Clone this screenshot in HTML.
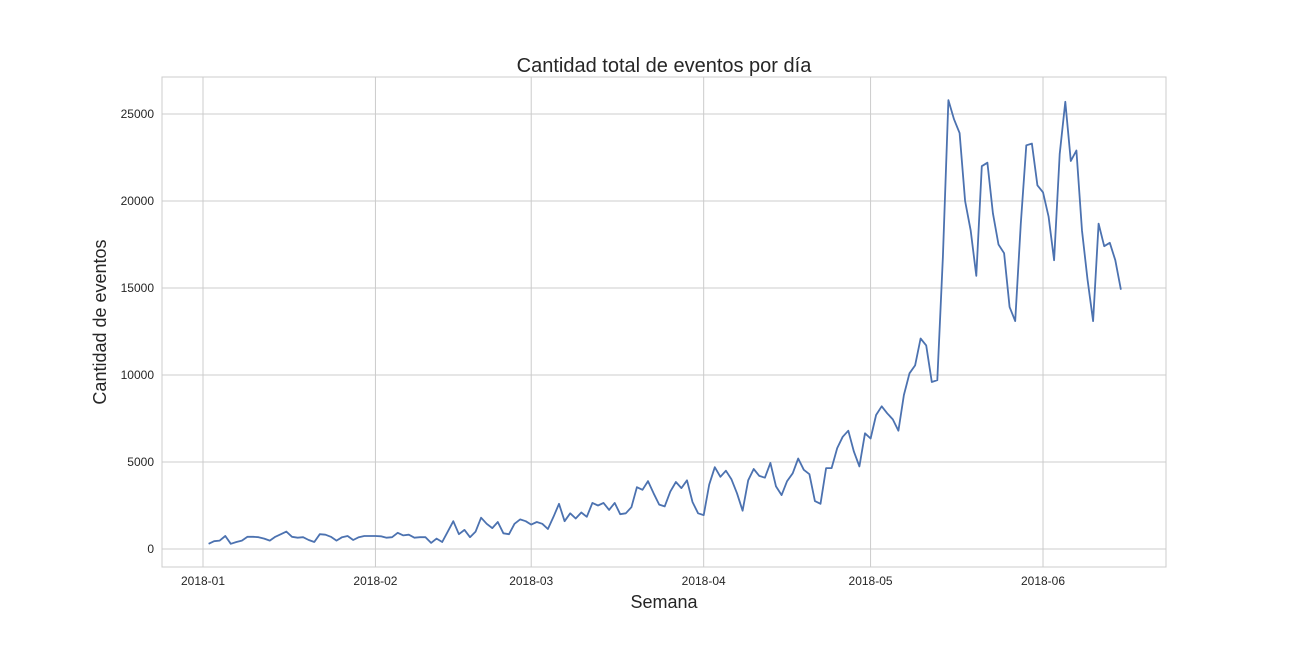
<!DOCTYPE html>
<html><head><meta charset="utf-8"><style>
body{margin:0;background:#fff;}
svg text{font-family:"Liberation Sans",Arial,sans-serif;fill:#262626;}
</style></head><body>
<svg id="chart" width="1296" height="648"></svg>
<script>
const janVals=[300,450,480,750,300,400,480,700,700,680,600,480,700,850,1000,700,650,680,520,400,850,820,700,480,680,750,520,680,750,750];
const febVals=[750,730,650,680,930,780,820,650,680,680,350,600,400,1000,1600,850,1100,680,1000,1800,1450,1200,1550,900,850,1450,1700,1600];
const marVals=[1400,1550,1450,1150,1850,2600,1600,2050,1750,2100,1850,2650,2500,2650,2250,2650,2000,2050,2400,3550,3400,3900,3200,2550,2450,3300,3850,3500,3950,2700,2050];
const aprVals=[1950,3700,4700,4150,4500,4000,3200,2200,3950,4600,4200,4100,4950,3600,3100,3900,4350,5200,4550,4300,2750,2600,4650,4650,5800,6450,6800,5600,4750,6650];
const mayVals=[6350,7700,8200,7800,7450,6800,8850,10100,10550,12100,11700,9600,9700,16800,25800,24700,23900,20000,18300,15700,22000,22200,19300,17500,17000,13900,13100,18700,23200,23300,20900];
const junVals=[20500,19100,16600,22700,25700,22300,22900,18300,15500,13100,18700,17400,17600,16600,14900];
const startDay=1; // Jan 2 = day index 1
const yTicks=[0,5000,10000,15000,20000,25000];
const xTickLabels=["2018-01","2018-02","2018-03","2018-04","2018-05","2018-06"];
const xTickDays=[0,31,59,90,120,151];

const NS="http://www.w3.org/2000/svg";
const svg=document.getElementById('chart');
const L=162,R=1166,T=77,B=567;
const xs=d=>203+d*5.563;
const ys=v=>549-v*(435/25000);
function mk(t,a){const e=document.createElementNS(NS,t);for(const k in a)e.setAttribute(k,a[k]);svg.appendChild(e);return e;}
const bg=mk('rect',{x:L,y:T,width:R-L,height:B-T,fill:'#fff',stroke:'#cccccc','stroke-width':1});


yTicks.forEach(v=>{
  const g=mk('line',{x1:L,x2:R,y1:ys(v),y2:ys(v),stroke:'#cccccc','stroke-width':1});
  
  
  const t=mk('text',{x:L-8,y:ys(v)+4,'text-anchor':'end','font-size':12});
  t.textContent=v;
  
  
});
xTickDays.forEach((d,i)=>{
  const g=mk('line',{x1:xs(d),x2:xs(d),y1:T,y2:B,stroke:'#cccccc','stroke-width':1});
  
  
  const t=mk('text',{x:xs(d),y:B+18,'text-anchor':'middle','font-size':12});
  t.textContent=xTickLabels[i];
  
  
});
const all=[].concat(janVals,febVals,marVals,aprVals,mayVals,junVals);
const pts=all.map((v,i)=>xs(startDay+i).toFixed(1)+','+ys(v).toFixed(1)).join(' ');
const line=mk('polyline',{points:pts,fill:'none',stroke:'#4c72b0','stroke-width':1.8,'stroke-linejoin':'round'});


const title=mk('text',{x:664,y:72,'text-anchor':'middle','font-size':20});
title.textContent='Cantidad total de eventos por día';


const xl=mk('text',{x:664,y:608,'text-anchor':'middle','font-size':18});
xl.textContent='Semana';


const yl=mk('text',{x:106,y:322,'text-anchor':'middle','font-size':18,transform:'rotate(-90 106 322)'});
yl.textContent='Cantidad de eventos';


</script>
</body></html>
